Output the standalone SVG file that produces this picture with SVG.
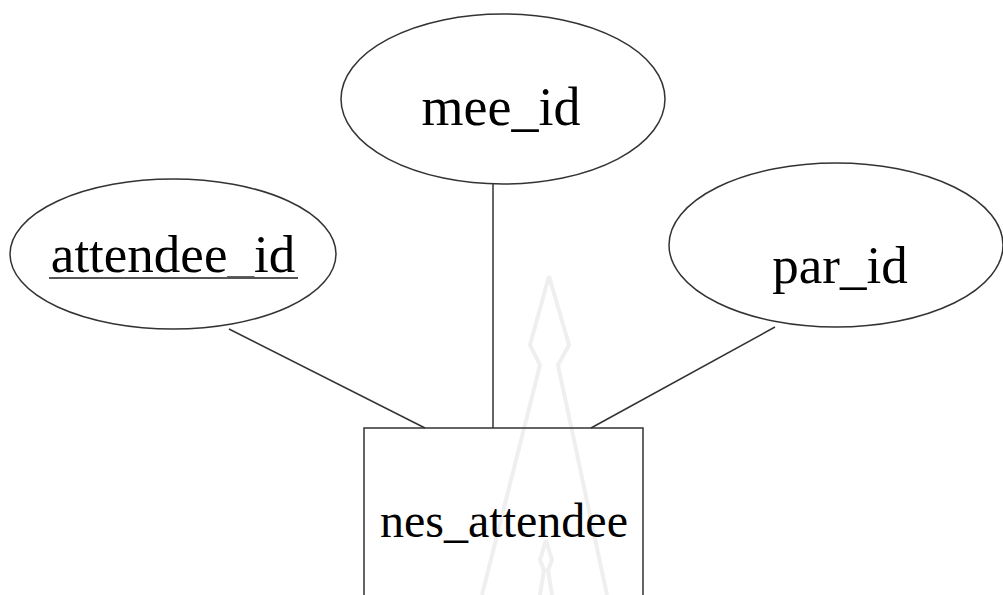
<svg xmlns="http://www.w3.org/2000/svg" width="1003" height="595" viewBox="0 0 1003 595">
<style>
.shape{fill:none;stroke:#333;stroke-width:1.5}
.lbl{font-family:"Liberation Serif","Times New Roman",serif;fill:#000;text-anchor:middle}
.wm{fill:none;stroke:#efefef;stroke-width:4;stroke-linejoin:round}
</style>
<rect width="1003" height="595" fill="#fff"/>
<g id="watermark">
<path class="wm" d="M549,276 L530,345 L540,365 L482,595 M549,276 L569,345 L558,365 L607,595"/>
<path class="wm" d="M546,540 L540,560 L544,570 L540,595 M546,540 L552,560 L548,570 L552,595"/>
</g>
<g id="connectors">
<line class="shape" x1="493" y1="184" x2="493" y2="428"/>
<line class="shape" x1="229" y1="329" x2="425" y2="428"/>
<line class="shape" x1="775" y1="327" x2="591" y2="428"/>
</g>
<g id="mee_id">
<ellipse class="shape" cx="503" cy="99" rx="162" ry="85"/>
<text class="lbl" x="501" y="125" font-size="54">mee_id</text>
</g>
<g id="attendee_id">
<ellipse class="shape" cx="173" cy="254" rx="163" ry="75"/>
<text class="lbl" x="173" y="272" font-size="53">attendee_id</text>
<line x1="49" y1="278" x2="298" y2="278" stroke="#555" stroke-width="2"/>
</g>
<g id="par_id">
<ellipse class="shape" cx="836" cy="245" rx="167" ry="82"/>
<text class="lbl" x="840" y="283" font-size="53">par_id</text>
</g>
<g id="nes_attendee">
<rect class="shape" x="364" y="428" width="279" height="180"/>
<text class="lbl" x="504" y="537" font-size="48">nes_attendee</text>
</g>
</svg>
